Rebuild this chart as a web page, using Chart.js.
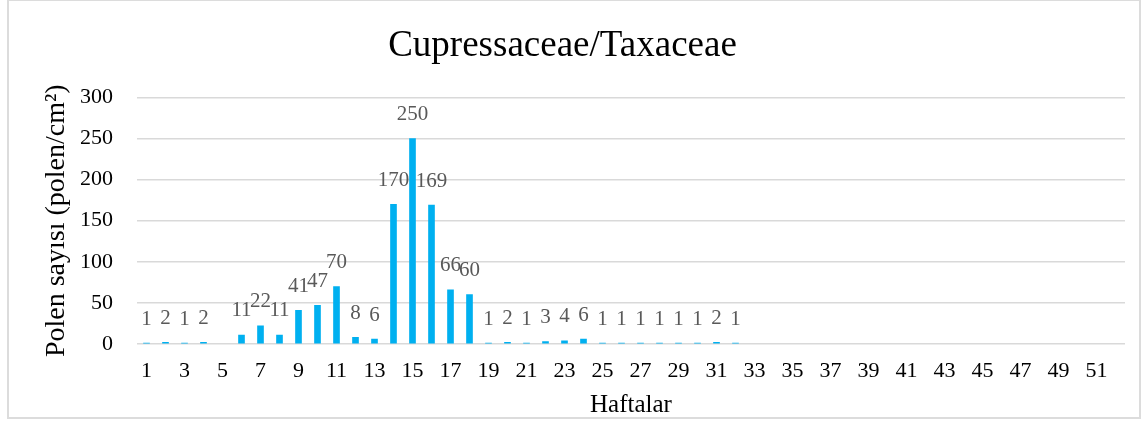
<!DOCTYPE html>
<html>
<head>
<meta charset="utf-8">
<script src="https://cdn.jsdelivr.net/npm/chart.js@4/dist/chart.umd.min.js"></script>
<style>
  body { margin: 0; background: #fff; }
  #wrap { position: absolute; left: 7px; top: -1px; width: 1130px; height: 416px; border: 2px solid #dcdcdc; }
  #box { position: absolute; left: 0; top: 0; width: 1143px; height: 421px; }
</style>
</head>
<body>
<div id="wrap"></div>
<div id="box"><canvas id="chart"></canvas></div>
<script>
// Weeks 1-52
const weeks = [];
for (let w = 1; w <= 52; w++) weeks.push(String(w));

// Weekly pollen counts (pollen/cm2), null = no record
const pollenCounts = [
  1, 2, 1, 2, null, 11, 22, 11, 41, 47,
  70, 8, 6, 170, 250, 169, 66, 60, 1, 2,
  1, 3, 4, 6, 1, 1, 1, 1, 1, 1,
  2, 1, null, null, null, null, null, null, null, null,
  null, null, null, null, null, null, null, null, null, null,
  null, null
];

const serif = "'Liberation Serif', 'Times New Roman', serif";

// Simple value labels above bars
const barLabels = {
  id: 'barLabels',
  afterDatasetsDraw(chart) {
    const ctx = chart.ctx;
    const meta = chart.getDatasetMeta(0);
    ctx.save();
    ctx.font = '21px ' + serif;
    ctx.fillStyle = '#595959';
    ctx.textAlign = 'center';
    ctx.textBaseline = 'middle';
    meta.data.forEach((bar, i) => {
      const v = pollenCounts[i];
      if (v == null) return;
      ctx.fillText(String(v), bar.x, bar.y - 24);
    });
    ctx.restore();
  }
};

new Chart(document.getElementById('chart').getContext('2d'), {
  type: 'bar',
  data: {
    labels: weeks,
    datasets: [{
      data: pollenCounts,
      backgroundColor: '#00b0f0',
      barThickness: 6
    }]
  },
  options: {
    responsive: true,
    maintainAspectRatio: false,
    animation: false,
    layout: { padding: { left: 0, right: 18, top: 0, bottom: 0 } },
    plugins: {
      legend: { display: false },
      tooltip: { enabled: false },
      title: {
        display: true,
        text: 'Cupressaceae/Taxaceae',
        color: '#000',
        font: { family: serif, size: 37, weight: 'normal' },
        padding: { top: 24, bottom: 29 }
      }
    },
    scales: {
      x: {
        grid: { display: false },
        border: { display: false },
        afterFit: (s) => { s.height = 77; },
        ticks: {
          color: '#000',
          font: { family: serif, size: 22 },
          maxRotation: 0,
          autoSkip: false,
          padding: 6,
          callback: function (val, idx) { return idx % 2 === 0 ? weeks[idx] : ''; }
        },
        title: {
          display: true,
          text: 'Haftalar',
          color: '#000',
          font: { family: serif, size: 25 },
          padding: { top: 0, bottom: 1 }
        }
      },
      y: {
        min: 0,
        max: 300,
        afterFit: (s) => { s.width = 137; },
        grid: { color: '#d9d9d9', lineWidth: 1.5, drawTicks: false },
        border: { display: false },
        ticks: {
          stepSize: 50,
          color: '#000',
          font: { family: serif, size: 22 },
          padding: 24
        },
        title: {
          display: true,
          text: 'Polen sayısı (polen/cm²)',
          color: '#000',
          font: { family: serif, size: 28 },
          padding: { top: 40, bottom: 0 }
        }
      }
    }
  },
  plugins: [barLabels]
});
</script>
</body>
</html>
